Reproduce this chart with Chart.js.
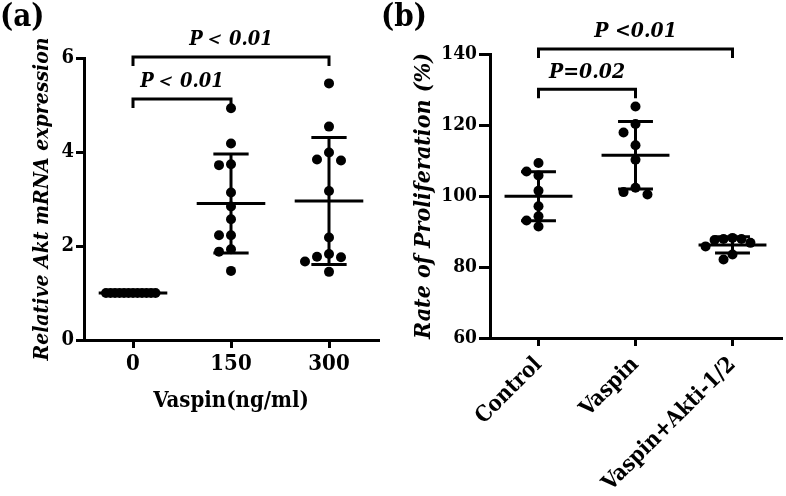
<!DOCTYPE html>
<html>
<head>
<meta charset="utf-8">
<script src="https://cdn.jsdelivr.net/npm/chart.js@4.4.1/dist/chart.umd.min.js"></script>
<style>
  html, body { margin: 0; padding: 0; background: #fff; }
  #wrap { position: relative; width: 786px; height: 496px; overflow: hidden; }
  canvas { position: absolute; top: 0; }
  .tag { position: absolute; top: -3px; font: bold 31px "DejaVu Serif Condensed", "DejaVu Serif", serif; color: #000; }
</style>
</head>
<body>
<div id="wrap">
  <canvas id="chartA" width="390" height="496" style="left:0"></canvas>
  <canvas id="chartB" width="396" height="496" style="left:390px"></canvas>
  <div class="tag" style="left:0">(a)</div>
  <div class="tag" style="left:381px">(b)</div>
</div>
<script>
const FONT = '"DejaVu Serif Condensed", "DejaVu Serif", serif';

// (a) Akt mRNA vs vaspin dose
const doseLabels = ['0', '150', '300'];
const akt0 = [1, 1, 1, 1, 1, 1, 1, 1, 1, 1, 1, 1];
const akt150 = [4.93, 4.18, 3.74, 3.72, 3.14, 2.84, 2.57, 2.23, 2.23, 1.93, 1.88, 1.47];
const akt300 = [5.46, 4.54, 3.99, 3.84, 3.82, 3.17, 2.18, 1.83, 1.77, 1.76, 1.67, 1.45];
const bracketFromA = [0, 0];
const bracketToA = [1, 2];
const bracketLevelA = [5.13, 6.02];
const bracketTextA = ['P\uFF1C 0.01', 'P\uFF1C 0.01'];

// (b) proliferation
const groupLabels = ['Control', 'Vaspin', 'Vaspin+Akti-1/2'];
const prolControl = [109.3, 106.9, 105.8, 101.5, 97.1, 94.3, 93.1, 91.4];
const prolVaspin = [125.2, 120.3, 117.9, 114.3, 110.2, 102.3, 101.1, 100.4];
const prolAkti = [88.2, 87.9, 87.9, 87.6, 86.8, 85.8, 83.5, 82.1];
const bracketFromB = [0, 0];
const bracketToB = [1, 2];
const bracketLevelB = [130.1, 141.4];
const bracketTextB = ['P=0.02', 'P <0.01'];

const mean = a => a.reduce((s, v) => s + v, 0) / a.length;
const sd = a => {
  const m = mean(a);
  return Math.sqrt(a.reduce((s, v) => s + (v - m) * (v - m), 0) / (a.length - 1));
};

// simple beeswarm: push overlapping dots sideways, squeeze wide rows
function swarm(groups, pxX, pxY) {
  const STEP = 12, HIT = 9, MAXHALF = 27;
  const pts = [];
  groups.forEach((vals, g) => {
    const placed = [];
    vals.forEach(v => {
      for (let k = 0; k < 40; k++) {
        const off = (k % 2 ? -1 : 1) * Math.ceil(k / 2) * STEP;
        const hit = placed.some(p => Math.hypot(p.off - off, (p.v - v) * pxY) < HIT);
        if (!hit) { placed.push({ off, v }); break; }
      }
    });
    const widest = Math.max(...placed.map(p => Math.abs(p.off)));
    const squeeze = widest > MAXHALF ? MAXHALF / widest : 1;
    placed.forEach(p => pts.push({ x: g + p.off * squeeze / pxX, y: p.v }));
  });
  return pts;
}

function statLines(groups) {
  const MEAN_HALF = 0.35, CAP_HALF = 0.18;
  const segs = [];
  groups.forEach((vals, i) => {
    const m = mean(vals), s = sd(vals);
    segs.push([[i - MEAN_HALF, m], [i + MEAN_HALF, m]]);
    if (s > 0) {
      segs.push([[i, m - s], [i, m + s]]);
      segs.push([[i - CAP_HALF, m + s], [i + CAP_HALF, m + s]]);
      segs.push([[i - CAP_HALF, m - s], [i + CAP_HALF, m - s]]);
    }
  });
  return segs.map(seg => ({
    type: 'line',
    data: seg.map(p => ({ x: p[0], y: p[1] })),
    borderColor: '#000',
    borderWidth: 3,
    borderCapStyle: 'butt',
    pointRadius: 0,
    showLine: true,
    fill: false
  }));
}

const bracketPlugin = {
  id: 'brackets',
  afterDraw(chart, args, opts) {
    const { ctx, scales: { x, y } } = chart;
    ctx.save();
    ctx.strokeStyle = '#000';
    ctx.lineWidth = 3;
    ctx.fillStyle = '#000';
    ctx.font = 'italic bold ' + opts.fontSize + 'px ' + FONT;
    ctx.textAlign = 'center';
    ctx.textBaseline = 'middle';
    opts.from.forEach((f, i) => {
      const x1 = x.getPixelForValue(f);
      const x2 = x.getPixelForValue(opts.to[i]);
      const yb = y.getPixelForValue(opts.level[i]);
      ctx.beginPath();
      ctx.moveTo(x1, yb + 9);
      ctx.lineTo(x1, yb);
      ctx.lineTo(x2, yb);
      ctx.lineTo(x2, yb + 9);
      ctx.stroke();
      ctx.fillText(opts.text[i], (x1 + x2) / 2, yb - 17);
    });
    ctx.restore();
  }
};

function makeChart(id, cfg) {
  const canvas = document.getElementById(id);
  const W = canvas.width, H = canvas.height, area = cfg.area;
  const pxX = (area.right - area.left) / 3;
  const pxY = (area.bottom - area.top) / (cfg.yMax - cfg.yMin);
  const datasets = [{
    type: 'scatter',
    data: swarm(cfg.groups, pxX, pxY),
    backgroundColor: '#000',
    borderWidth: 0,
    pointRadius: 5,
    pointHoverRadius: 5
  }].concat(statLines(cfg.groups));

  return new Chart(canvas, {
    type: 'scatter',
    data: { datasets },
    plugins: [bracketPlugin],
    options: {
      responsive: false,
      animation: false,
      layout: { padding: { left: 0, right: W - area.right, top: area.top, bottom: 0 } },
      plugins: {
        legend: { display: false },
        tooltip: { enabled: false },
        brackets: cfg.brackets
      },
      scales: {
        x: {
          type: 'linear',
          min: -0.5,
          max: 2.5,
          afterBuildTicks: s => { s.ticks = cfg.labels.map((_, i) => ({ value: i })); },
          afterFit: s => { s.height = H - area.bottom; },
          ticks: {
            callback: v => cfg.labels[v],
            color: '#000',
            font: { family: FONT, size: cfg.xTickSize, weight: 'bold' },
            padding: cfg.xTickPad,
            minRotation: cfg.rotation,
            maxRotation: cfg.rotation,
            autoSkip: false
          },
          grid: { display: true, drawOnChartArea: false, drawTicks: true, tickLength: 8, lineWidth: 3, color: '#000' },
          border: { display: true, width: 3, color: '#000' },
          title: cfg.xTitle ? {
            display: true,
            text: cfg.xTitle,
            color: '#000',
            font: { family: FONT, size: 22, weight: 'bold', lineHeight: 1.2 },
            padding: { top: 0, bottom: cfg.xTitlePad }
          } : { display: false }
        },
        y: {
          min: cfg.yMin,
          max: cfg.yMax,
          afterFit: s => { s.width = area.left; },
          ticks: {
            stepSize: cfg.yStep,
            color: '#000',
            font: { family: FONT, size: cfg.yTickSize, weight: 'bold' },
            padding: 2
          },
          grid: { display: true, drawOnChartArea: false, drawTicks: true, tickLength: cfg.yTickLen, lineWidth: 3, color: '#000' },
          border: { display: true, width: 3, color: '#000' },
          title: {
            display: true,
            text: cfg.yTitle,
            color: '#000',
            font: { family: FONT, size: cfg.yTitleSize, weight: 'bold', style: 'italic', lineHeight: 1.2 },
            padding: { top: cfg.yTitlePad, bottom: 0 }
          }
        }
      }
    }
  });
}

makeChart('chartA', {
  groups: [akt0, akt150, akt300],
  labels: doseLabels,
  area: { left: 84, right: 378, top: 58, bottom: 340 },
  yMin: 0, yMax: 6, yStep: 2,
  xTickSize: 22, xTickPad: 3, rotation: 0,
  yTickSize: 20, yTickLen: 8,
  xTitle: 'Vaspin(ng/ml)', xTitlePad: 82,
  yTitle: 'Relative Akt mRNA expression', yTitleSize: 21, yTitlePad: 30,
  brackets: { from: bracketFromA, to: bracketToA, level: bracketLevelA, text: bracketTextA, fontSize: 20 }
});

makeChart('chartB', {
  groups: [prolControl, prolVaspin, prolAkti],
  labels: groupLabels,
  area: { left: 100, right: 392, top: 54, bottom: 338 },
  yMin: 60, yMax: 140, yStep: 20,
  xTickSize: 22, xTickPad: 6, rotation: 45,
  yTickSize: 19, yTickLen: 11,
  xTitle: null,
  yTitle: 'Rate of Proliferation (%)', yTitleSize: 23, yTitlePad: 20,
  brackets: { from: bracketFromB, to: bracketToB, level: bracketLevelB, text: bracketTextB, fontSize: 21 }
});
</script>
</body>
</html>
